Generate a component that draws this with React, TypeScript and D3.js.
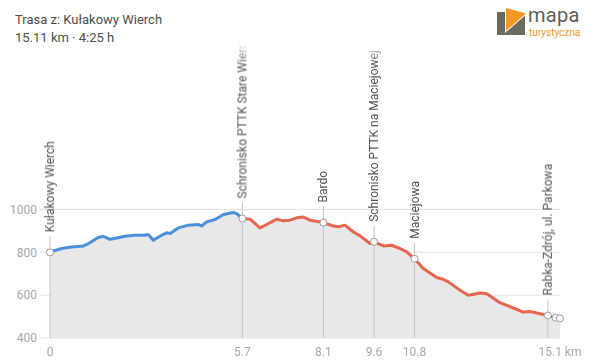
import * as d3 from "d3";

// elevation profile (km, m n.p.m.)
const distKm = [
  0, 0.1, 0.35, 0.64, 0.99, 1.14, 1.43, 1.58, 1.78, 1.98, 2.22, 2.52, 2.81, 2.91,
  3.06, 3.31, 3.46, 3.56, 3.8, 4.1, 4.39, 4.49, 4.64, 4.89, 5.14, 5.43, 5.53, 5.7,
  5.93, 6.22, 6.42, 6.72, 6.91, 7.11, 7.31, 7.51, 7.7, 8.1, 8.39, 8.54, 8.74, 8.99,
  9.19, 9.48, 9.6, 9.88, 10.12, 10.37, 10.57, 10.8, 11.06, 11.46, 11.65, 11.8,
  12.15, 12.39, 12.74, 12.94, 13.33, 13.73, 14.02, 14.22, 14.75, 14.98, 15.11,
];
const elevM = [
  800, 806, 818, 825, 830, 841, 869, 875, 861, 867, 875, 880, 880, 883,
  857, 880, 891, 888, 914, 927, 930, 923, 942, 953, 977, 986, 981, 958,
  955, 914, 930, 955, 947, 950, 961, 965, 950, 939, 923, 919, 927, 895,
  877, 841, 849, 830, 833, 818, 802, 770, 724, 682, 674, 662,
  623, 600, 610, 607, 565, 540, 521, 524, 505, 495, 492,
];

// waypoints
const wpNames = [
  "Kułakowy Wierch",
  "Schronisko PTTK Stare Wierchy",
  "Bardo",
  "Schronisko PTTK na Maciejowej",
  "Maciejowa",
  "Rabka-Zdrój, ul. Parkowa",
];
const wpKm = [0, 5.7, 8.1, 9.6, 10.8, 14.75];

// x axis ticks
const xTicks = [0, 5.7, 8.1, 9.6, 10.8, 15.11];
const xTickLabels = ["0", "5.7", "8.1", "9.6", "10.8", "15.1 km"];
const yTicks = [400, 600, 800, 1000];

// route segments (colour changes)
const segBreaks = [0, 5.7, 14.75, 15.11];
const segColors = ["#4a90dc", "#e8664f", "#111111"];

const W = 600;
const H = 362;
const FONT = "Roboto, 'Noto Sans', sans-serif";

export default function App() {
  const x = d3.scaleLinear().domain([0, 15.11]).range([50, 560]);
  const y = d3.scaleLinear().domain([400, 1000]).range([338, 209.5]);

  const pts = distKm.map((d, i) => ({ d, e: elevM[i] }));
  const bis = d3.bisector((p: { d: number }) => p.d).left;
  const elevAt = (k: number) => {
    const i = bis(pts, k);
    if (i <= 0) return pts[0].e;
    if (i >= pts.length) return pts[pts.length - 1].e;
    const a = pts[i - 1];
    const b = pts[i];
    return a.e + ((b.e - a.e) * (k - a.d)) / (b.d - a.d);
  };

  const area = d3
    .area<{ d: number; e: number }>()
    .x((p) => x(p.d))
    .y0(y(400))
    .y1((p) => y(p.e));

  const line = d3
    .line<{ d: number; e: number }>()
    .x((p) => x(p.d))
    .y((p) => y(p.e));

  const segs = segColors.map((c, i) => {
    const lo = segBreaks[i];
    const hi = segBreaks[i + 1];
    const inner = pts.filter((p) => p.d > lo && p.d < hi);
    const data = [{ d: lo, e: elevAt(lo) }, ...inner, { d: hi, e: elevAt(hi) }];
    return { c, data };
  });

  const endPts = [14.98, 15.11];

  return (
    <svg
      width={W}
      height={H}
      style={{ position: "fixed", left: 0, top: 0, background: "#fff" }}
      fontFamily={FONT}
    >
      <defs>
        <linearGradient id="fade" gradientUnits="userSpaceOnUse" x1="0" y1="43" x2="0" y2="62">
          <stop offset="0" stopColor="#000" />
          <stop offset="1" stopColor="#fff" />
        </linearGradient>
        <mask id="labelMask" maskUnits="userSpaceOnUse" maskContentUnits="userSpaceOnUse" x="0" y="0" width={W} height={H}>
          <rect x="0" y="0" width={W} height={H} fill="url(#fade)" />
        </mask>
      </defs>

      {/* title */}
      <text x={15} y={24} fontSize={13} fill="#4d4d4d">Trasa z: Kułakowy Wierch</text>
      <text x={15} y={42} fontSize={13} fill="#4d4d4d">15.11 km · 4:25 h</text>

      {/* logo */}
      <g>
        <rect x={497} y={12} width={28} height={23} fill="#6b6a5f" />
        <polygon points="505,7 528,13 505,33" fill="#fff" />
        <polygon points="506,8 526,13.5 506,31" fill="#f39a1e" />
        <text x={528} y={22} fontSize={20} fill="#5f5e54" letterSpacing={0.3}>mapa</text>
        <text x={529} y={36} fontSize={10} fill="#f39a1e">turystyczna</text>
      </g>

      {/* grid */}
      {yTicks.map((t) => (
        <g key={t}>
          <line x1={40} x2={560} y1={y(t)} y2={y(t)} stroke="#e3e3e3" strokeWidth={1} />
          <text x={37} y={y(t)} dy="0.35em" textAnchor="end" fontSize={12} fill="#a8a8a8">
            {t}
          </text>
        </g>
      ))}

      {/* area */}
      <path d={area(pts) || ""} fill="#e8e8e8" />

      {/* waypoint lines */}
      {wpKm.map((k, i) => {
        const px = x(k);
        const py = y(elevAt(k));
        return (
          <line key={i} x1={px} x2={px} y1={y(400)} y2={py - 16} stroke="#c4c4c4" strokeWidth={1} />
        );
      })}

      {/* waypoint labels, fading out at the top */}
      <g mask="url(#labelMask)">
        {wpKm.map((k, i) => {
          const px = x(k);
          const py = y(elevAt(k));
          return (
            <text
              key={wpNames[i]}
              transform={`translate(${px},${py - 20}) rotate(-90)`}
              dominantBaseline="central"
              fontSize={12}
              fill="#555"
            >
              {wpNames[i]}
            </text>
          );
        })}
      </g>

      {/* route line */}
      {segs.map((s, i) => (
        <path
          key={i}
          d={line(s.data) || ""}
          fill="none"
          stroke={s.c}
          strokeWidth={i === 2 ? 2 : 3}
          strokeLinejoin="round"
          strokeLinecap="round"
        />
      ))}

      {/* points */}
      {[...wpKm, ...endPts].map((k, i) => (
        <circle
          key={i}
          cx={x(k)}
          cy={y(elevAt(k))}
          r={3.5}
          fill="#fff"
          stroke="#9a9a9a"
          strokeWidth={1}
        />
      ))}

      {/* x ticks */}
      {xTicks.map((k, i) => (
        <text
          key={k}
          x={x(k)}
          y={356}
          textAnchor="middle"
          fontSize={12}
          fill="#a8a8a8"
        >
          {xTickLabels[i]}
        </text>
      ))}
    </svg>
  );
}
